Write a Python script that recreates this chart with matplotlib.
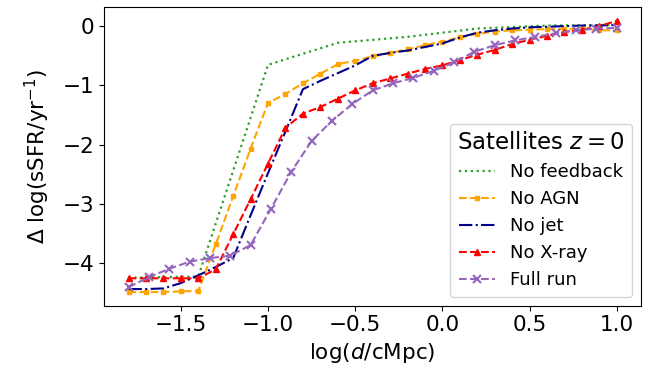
import matplotlib
matplotlib.use("Agg")
import matplotlib.pyplot as plt

# ── data ──────────────────────────────────────────────────────────────────────
# runs on a 0.1 dex grid
x_fine = [-1.8, -1.7, -1.6, -1.5, -1.4, -1.3, -1.2, -1.1, -1.0, -0.9,
          -0.8, -0.7, -0.6, -0.5, -0.4, -0.3, -0.2, -0.1, 0.0, 0.1,
          0.2, 0.3, 0.4, 0.5, 0.6, 0.7, 0.8, 0.9, 1.0]

no_agn = [-4.48, -4.48, -4.48, -4.47, -4.46, -3.68, -2.87, -2.07, -1.30, -1.15,
          -0.97, -0.81, -0.65, -0.59, -0.52, -0.46, -0.40, -0.33, -0.27, -0.20,
          -0.14, -0.10, -0.08, -0.07, -0.06, -0.06, -0.06, -0.08, -0.08]

no_jet = [-4.43, -4.43, -4.42, -4.33, -4.20, -4.06, -3.91, -3.19, -2.48, -1.78,
          -1.07, -0.93, -0.80, -0.67, -0.51, -0.46, -0.42, -0.36, -0.30, -0.20,
          -0.12, -0.08, -0.05, -0.03, -0.02, -0.01, 0.00, 0.00, 0.01]

no_xray = [-4.25, -4.25, -4.25, -4.25, -4.25, -4.10, -3.51, -2.92, -2.32, -1.72,
           -1.48, -1.37, -1.23, -1.09, -0.97, -0.89, -0.81, -0.73, -0.67, -0.58,
           -0.49, -0.41, -0.31, -0.24, -0.17, -0.11, -0.07, -0.01, 0.08]

# no-feedback run, coarse bins
x_nofb = [-1.8, -1.4, -1.0, -0.6, -0.2, 0.2, 0.6, 1.0]
no_fb = [-4.24, -4.22, -0.66, -0.29, -0.19, -0.05, 0.00, 0.01]

# full run, 25 bins
x_full = [-1.8, -1.683, -1.567, -1.45, -1.333, -1.217, -1.1, -0.983, -0.867,
          -0.75, -0.633, -0.517, -0.4, -0.283, -0.167, -0.05, 0.067, 0.183,
          0.3, 0.417, 0.533, 0.65, 0.767, 0.883, 1.0]
full_run = [-4.40, -4.23, -4.09, -3.97, -3.91, -3.87, -3.69, -3.08, -2.46,
            -1.94, -1.60, -1.32, -1.09, -0.97, -0.88, -0.76, -0.62, -0.44,
            -0.33, -0.25, -0.19, -0.13, -0.08, -0.05, -0.04]

# ── figure ────────────────────────────────────────────────────────────────────
fig, ax = plt.subplots(figsize=(6.59, 3.81), dpi=100)
fig.subplots_adjust(left=0.158, right=0.973, top=0.981, bottom=0.198)

ax.plot(x_nofb, no_fb, color='tab:green', ls=':', lw=1.6, label='No feedback')
ax.plot(x_fine, no_agn, color='orange', ls='--', lw=1.5, marker='s', ms=3,
        label='No AGN')
ax.plot(x_fine, no_jet, color='darkblue', ls='-.', lw=1.5, label='No jet')
ax.plot(x_fine, no_xray, color='red', ls='--', lw=1.5, marker='^', ms=5,
        label='No X-ray')
ax.plot(x_full, full_run, color='tab:purple', ls='--', lw=1.5, marker='x', ms=6,
        mew=1.5, label='Full run')

ax.set_xticks([-1.5, -1.0, -0.5, 0.0, 0.5, 1.0])
ax.set_yticks([0, -1, -2, -3, -4])
ax.tick_params(labelsize=15.5)
ax.set_xlabel(r'log($d$/cMpc)', fontsize=15.5)
ax.set_ylabel(r'$\Delta$ log(sSFR/yr$^{-1}$)', fontsize=15.5, labelpad=8)

leg = ax.legend(loc='lower right', fontsize=13, title=r'Satellites $z = 0$',
                title_fontsize=16.5)

fig.savefig('out.png', dpi=100)
